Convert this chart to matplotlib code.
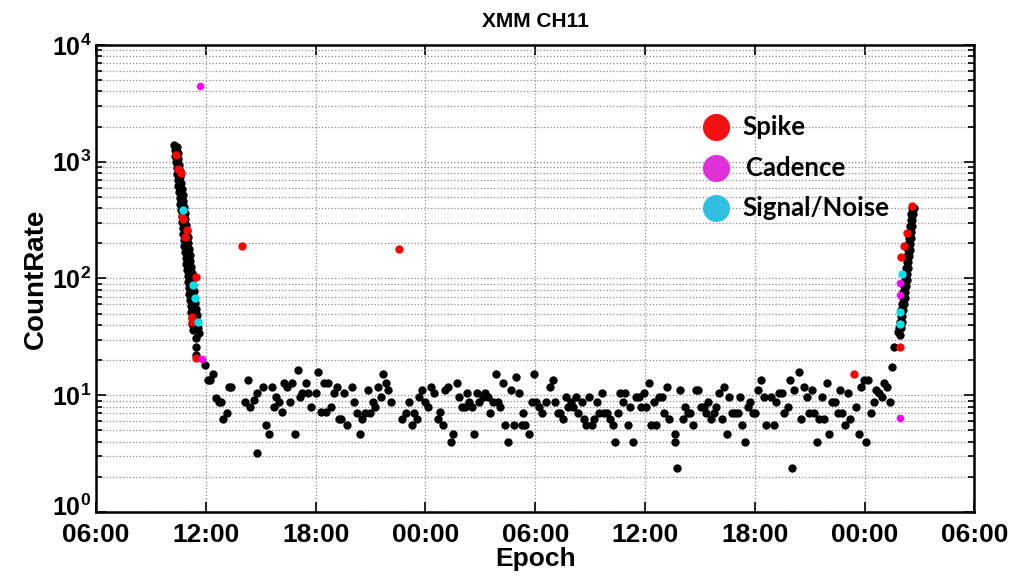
import matplotlib
matplotlib.use("Agg")
import matplotlib.pyplot as plt
import matplotlib.transforms as mtransforms
from matplotlib.lines import Line2D

plt.rcParams['font.family'] = 'Liberation Sans'
plt.rcParams['font.weight'] = 'bold'
plt.rcParams['mathtext.fontset'] = 'custom'
plt.rcParams['mathtext.rm'] = 'Liberation Sans:bold'
plt.rcParams['mathtext.bf'] = 'Liberation Sans:bold'

# time axis: hours after 06:00 of the first day
# -----------------------------
# quiet background (black)
# -----------------------------
bg_t = [5.96, 6.40, 6.12, 6.23, 6.54, 6.73, 6.82, 7.13, 6.96, 7.24, 7.36, 8.31, 8.13, 8.42, 8.64,
        8.78, 8.80, 9.15, 9.28, 9.46, 9.59, 9.70, 9.83, 10.01, 10.15, 10.28, 10.42, 10.59, 10.72,
        10.86, 11.03, 11.15, 11.28, 11.46, 11.56, 11.74,
        12.01, 12.14, 12.28, 12.43, 12.56, 12.69, 12.83, 12.98, 13.14, 13.25, 13.41, 13.56, 13.71,
        13.98, 14.11, 14.25, 14.42, 14.56, 14.69, 14.84, 14.96, 15.11, 15.26, 15.42, 15.57, 15.69,
        15.84, 15.97, 16.11, 16.70, 16.93, 17.11, 17.26, 17.39, 17.53, 17.66, 17.81, 17.97, 18.12,
        18.30, 18.44,
        18.66, 18.81, 18.97, 19.08, 19.25, 19.39, 19.52, 19.70, 19.81, 20.00, 20.16, 20.27, 20.39,
        20.54, 20.67, 20.79, 20.94, 21.12, 21.25, 21.40, 21.52, 21.71, 21.85, 21.94, 22.09, 22.22,
        22.36, 22.53, 22.67, 22.82, 22.95, 23.09, 23.25, 23.35, 23.46, 23.64, 23.80, 23.91, 24.04,
        24.22, 24.35, 24.59, 24.80, 24.95,
        25.10, 25.22, 25.35, 25.50, 25.68, 25.80, 25.95, 26.08, 26.22, 26.35, 26.53, 26.64, 26.77,
        26.92, 27.08, 27.23, 27.35, 27.50, 27.65, 27.77, 27.92, 28.08, 28.23, 28.36, 28.50, 28.65,
        28.78, 28.90, 29.05, 29.20, 29.36, 29.50, 29.65, 29.78, 29.92, 30.05, 30.20, 30.33, 30.47,
        30.60, 30.74, 30.91, 31.05, 31.18, 31.33,
        31.62, 31.65, 31.77, 31.91, 32.06, 32.18, 32.33, 32.47, 32.64, 32.78, 32.91, 33.06, 33.20,
        33.33, 33.46, 33.60, 33.75, 33.90, 34.02, 34.19, 34.33, 34.46, 34.61, 34.75, 34.92, 35.06,
        35.19, 35.30, 35.46, 35.61, 35.76, 35.92, 36.03, 36.19, 36.34, 36.48, 36.61, 36.89, 37.03,
        37.16, 37.34, 37.49, 37.61, 37.80, 37.94, 38.05, 38.12,
        38.40, 38.52, 38.67, 38.83, 38.98, 39.13, 39.25, 39.38, 39.53, 39.67, 39.80, 39.93, 40.07,
        40.22, 40.38, 40.53, 40.66, 40.77, 40.93, 41.11, 41.22, 41.53, 41.68, 41.80, 41.95, 42.10,
        42.20, 42.35, 42.50, 42.63, 42.77, 42.93, 43.08, 43.23, 43.39, 43.50]
bg_v = [18.2, 15.2, 13.4, 13.4, 9.5, 8.8, 8.8, 7.0, 6.3, 11.8, 11.8, 13.4, 8.8, 8.0, 9.2,
        3.2, 10.4, 11.8, 5.6, 4.7, 11.8, 7.9, 9.7, 8.8, 7.2, 12.7, 11.8, 8.8, 12.7,
        4.7, 16.3, 9.7, 10.4, 12.7, 10.4, 8.0,
        10.4, 15.9, 7.2, 12.7, 7.2, 12.7, 8.0, 10.4, 11.8, 6.3, 6.3, 10.4, 5.6,
        11.8, 8.7, 7.1, 4.7, 6.3, 7.1, 11.1, 7.1, 8.7, 8.0, 11.8, 9.7, 15.2,
        12.7, 11.1, 8.7, 6.3, 7.1, 8.7, 5.6, 7.1, 6.3, 9.7, 11.1, 8.7, 8.0,
        11.8, 10.4,
        6.3, 7.2, 5.6, 11.1, 11.8, 4.0, 4.7, 12.7, 9.7, 8.0, 8.0, 10.4, 8.8,
        8.0, 4.7, 10.4, 8.7, 9.7, 10.4, 9.7, 7.1, 8.7, 15.2, 8.7, 8.0, 12.7,
        5.6, 4.0, 11.1, 5.6, 14.2, 10.4, 5.6, 7.1, 5.6, 4.7, 8.7, 15.2, 8.7,
        8.0, 7.1, 8.7, 11.8, 13.5,
        8.7, 7.1, 7.1, 6.3, 9.7, 8.0, 8.7, 8.0, 9.7, 7.1, 8.7, 6.3, 5.6,
        9.7, 5.6, 6.3, 8.7, 7.1, 10.4, 7.1, 7.1, 6.3, 5.6, 4.0, 7.1, 10.4,
        8.7, 10.4, 5.6, 8.0, 4.0, 9.7, 9.7, 8.0, 10.4, 8.0, 12.7, 5.6, 8.7,
        5.6, 9.7, 9.7, 7.1, 11.8, 6.3,
        4.0, 4.7, 2.4, 11.1, 6.3, 8.0, 7.1, 7.1, 5.6, 11.1, 11.1, 8.0, 8.0,
        7.1, 8.7, 6.3, 7.1, 8.0, 10.4, 6.3, 11.8, 4.7, 9.7, 7.1, 7.1, 7.1,
        9.7, 5.6, 4.0, 8.0, 8.7, 7.1, 7.1, 11.1, 13.5, 9.7, 5.6, 9.7, 5.6,
        8.7, 10.4, 10.4, 7.1, 8.0, 13.5, 2.4, 11.1,
        15.9, 6.3, 11.8, 9.7, 7.1, 11.1, 7.1, 4.0, 6.3, 9.7, 6.3, 12.7, 4.7,
        8.7, 8.7, 7.1, 11.1, 7.1, 5.6, 10.4, 6.3, 8.0, 4.7, 11.8, 13.5, 4.0,
        13.5, 7.1, 8.7, 11.1, 10.4, 9.7, 12.7, 11.8, 8.7, 17.6]

# -----------------------------
# decay after the first pass (black)
# -----------------------------
decay_t_a = [4.27, 4.30, 4.33, 4.36, 4.40, 4.43, 4.46, 4.50, 4.53, 4.57, 4.60, 4.63, 4.67, 4.70,
             4.73, 4.77, 4.80, 4.83, 4.87, 4.90, 4.94, 4.97, 5.00, 5.04, 5.07, 5.10, 5.14, 5.17,
             5.21, 5.24, 5.27, 5.31]
decay_t_b = [4.43, 4.46, 4.50, 4.54, 4.57, 4.61, 4.65, 4.69, 4.73, 4.77, 4.80, 4.84, 4.88, 4.92,
             4.96, 5.00, 5.03, 5.07, 5.11, 5.15, 5.19, 5.22, 5.26, 5.30, 5.34, 5.38, 5.42, 5.45,
             5.49, 5.53, 5.57, 5.61]
decay_v_a = [1390, 1262, 1120, 995, 884, 785, 698, 620, 551, 489, 435, 386, 343, 305, 271, 240,
             214, 190, 169, 150, 133, 118, 105, 93, 83, 74, 65, 58, 52, 46, 41, 36]
decay_v_b = [1325, 1190, 1055, 940, 834, 741, 659, 585, 520, 461, 410, 364, 324, 288, 255, 227,
             202, 179, 159, 141, 125, 111, 99, 88, 78, 70, 62, 55, 49, 43, 38, 34]
decay_tail_t = [5.47, 5.47, 5.47, 5.47]
decay_tail_v = [37.5, 30.7, 26.0, 22.2]

# -----------------------------
# rise before the second pass (black)
# -----------------------------
rise_t_a = [44.58, 44.54, 44.51, 44.48, 44.45, 44.42, 44.39, 44.35, 44.32, 44.29, 44.26, 44.23,
            44.19, 44.16, 44.12, 44.08, 44.04, 44.00, 43.96, 43.93, 43.89]
rise_t_b = [44.68, 44.64, 44.61, 44.58, 44.55, 44.52, 44.49, 44.45, 44.42, 44.39, 44.36, 44.33,
            44.29, 44.26, 44.22, 44.18, 44.14, 44.10, 44.06, 44.03, 43.99]
rise_v = [402, 357, 317, 282, 250, 222, 198, 175, 156, 138, 123, 109, 97, 86, 77, 68, 60.5,
          53.7, 47.7, 42.4, 37.7]
rise_tail_t = [43.60, 43.82, 43.92]
rise_tail_v = [26.0, 35.0, 33.0]

# -----------------------------
# flagged points
# -----------------------------
spike_t = [4.36, 4.50, 4.63, 4.72, 4.77, 4.99, 4.85, 5.45, 5.27, 5.23, 5.45, 7.98, 16.57,
           41.40, 44.59, 44.32, 44.14, 44.01, 43.95]
spike_v = [1143, 861, 796, 338, 321, 260, 225, 102, 47, 42, 20.8, 190, 179,
           15.2, 418, 244, 190, 154, 25.7]
cadence_t = [5.69, 5.81, 43.95, 43.92, 43.92]
cadence_v = [4460, 20.4, 92, 72, 6.35]
snr_t = [4.76, 5.30, 5.41, 5.58, 44.04, 43.92, 43.92]
snr_v = [386, 88, 68, 42, 109, 52, 41]

tick_hours = [0, 6, 12, 18, 24, 30, 36, 42, 48]
tick_names = ["06:00", "12:00", "18:00", "00:00", "06:00", "12:00", "18:00", "00:00", "06:00"]

fig = plt.figure(figsize=(10.25, 5.76), dpi=100)
ax = fig.add_axes([0.0937, 0.111, 0.857, 0.811])
ax.set_yscale('log')

ms = 6
for t, v in [(bg_t, bg_v), (decay_t_a, decay_v_a), (decay_t_b, decay_v_b),
             (decay_tail_t, decay_tail_v), (rise_t_a, rise_v), (rise_t_b, rise_v),
             (rise_tail_t, rise_tail_v)]:
    ax.plot(t, v, 'o', color='black', ms=ms, mec='none')
ax.plot(spike_t, spike_v, 'o', color='#ff0000', ms=ms, mec='none')
ax.plot(cadence_t, cadence_v, 'o', color='#ff00ff', ms=ms - 0.5, mec='none')
ax.plot(snr_t, snr_v, 'o', color='#00e0ec', ms=ms, mec='none')

ax.set_xlim(0, 48)
ax.set_ylim(1, 1e4)
ax.set_xticks(tick_hours)
ax.set_xticklabels(tick_names, fontsize=19)
ax.set_yticks([1, 10, 100, 1000, 10000])
ax.set_yticklabels([r'$\mathbf{10^{%d}}$' % k for k in range(5)], fontsize=18)

ax.grid(True, which='major', axis='both', ls=':', color='#8c8c8c', lw=0.9)
ax.grid(True, which='minor', axis='y', ls=':', color='#8c8c8c', lw=0.9)
ax.tick_params(which='both', direction='in', top=True, right=True, width=1.2)
ax.tick_params(which='major', length=7)
ax.tick_params(axis='x', which='major', pad=8)
ax.tick_params(which='minor', length=4)
for s in ax.spines.values():
    s.set_linewidth(1.8)

# lift the 10^0 label a touch so it clears the first time label
lab0 = ax.get_yticklabels()[0]
lab0.set_transform(lab0.get_transform() +
                   mtransforms.ScaledTranslation(0, 5 / 72, fig.dpi_scale_trans))

ax.set_title('XMM CH11', fontsize=15, weight='bold', pad=13)
ax.set_xlabel('Epoch', fontsize=19, weight='bold', labelpad=0)
ax.set_ylabel('CountRate', fontsize=20, weight='bold', labelpad=2)

# legend drawn like the annotation in the original slide
legend_items = [('Spike', '#f21212'), ('Cadence', '#e030d8'), ('Signal/Noise', '#30bfe0')]
for i, (name, col) in enumerate(legend_items):
    y = 0.7795 - i * 0.0705
    fig.add_artist(Line2D([0.6985], [y], marker='o', ms=19.5, color=col, mec='none',
                          transform=fig.transFigure))
    fig.text(0.724 + (0.004 if name == 'Cadence' else 0), y, name, va='center', ha='left',
             fontsize=18.5, weight='bold', family='Lato')

fig.savefig('out.png', dpi=100)
